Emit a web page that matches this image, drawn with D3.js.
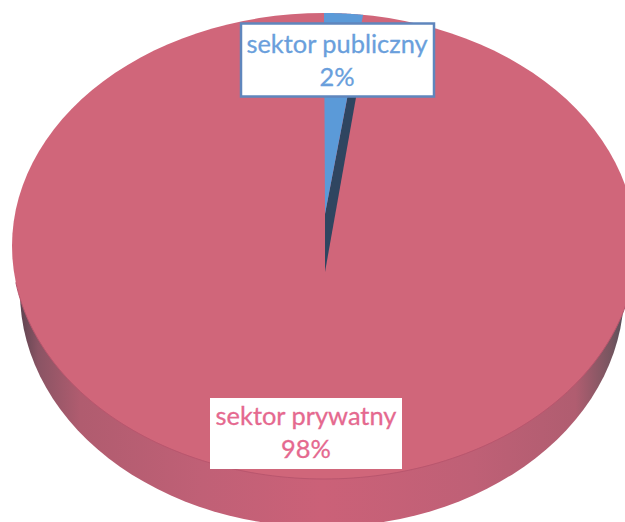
<!DOCTYPE html>
<html lang="pl">
<head>
<meta charset="UTF-8">
<title>Sektor publiczny i prywatny</title>
<script src="https://d3js.org/d3.v7.min.js"></script>
<style>
    html, body { margin: 0; padding: 0; background: #fff; overflow: hidden; }
    svg { display: block; }
    .label { font-family: Lato, "Open Sans", sans-serif; font-size: 25.4px; text-anchor: middle; stroke-width: 0.3px; }
</style>
</head>
<body>
<svg width="625" height="522"></svg>
<script>
    // share of each sector, clockwise from the top
    const categories = ["sektor publiczny", "sektor prywatny"];
    const values = [2, 98];
    const percentLabels = ["2%", "98%"];

    const svg = d3.select("svg");

    // fake 3D: tilted rim ellipse, apex of the slices sits below its centre
    const top3d = {cx: 324, cy: 246, rx: 312, ry: 233};
    const wall3d = {cx: 322, cy: 292, rx: 302, ry: 235};
    const apexX = 325, apexY = 272, blueApexY = 214;

    const pie = d3.pie().sort(null).value(d => d);
    const arcs = pie(values);

    const rimPoint = (e, a) => [e.cx + e.rx * Math.sin(a), e.cy - e.ry * Math.cos(a)];
    const line = d3.line();

    function rim(e, a0, a1) {
        return d3.range(0, 121).map(i => rimPoint(e, a0 + (a1 - a0) * i / 120));
    }

    const defs = svg.append("defs");
    const sideGrad = defs.append("linearGradient").attr("id", "side");
    [[0, "#5e4450"], [0.03, "#8a5464"], [0.1, "#b05c6f"], [0.3, "#c06076"], [0.5, "#cb6178"],
     [0.75, "#bf6076"], [0.92, "#b05d70"], [0.98, "#75555f"], [1, "#55505a"]]
        .forEach(s => sideGrad.append("stop").attr("offset", s[0]).attr("stop-color", s[1]));

    // side wall
    svg.append("path")
        .attr("d", line(rim(wall3d, 0, 2 * Math.PI)) + "Z")
        .attr("fill", "url(#side)");

    // top face, private sector
    svg.append("path")
        .attr("d", line(rim(top3d, 0, 2 * Math.PI)) + "Z")
        .attr("fill", "#d0667a");

    // faint seam between top face and wall
    svg.append("path")
        .attr("d", line(rim(top3d, Math.PI * 0.55, Math.PI * 1.45)))
        .attr("fill", "none")
        .attr("stroke", "#b9566e")
        .attr("stroke-width", 1);

    // public sector slice with its dark cut face, the face stops behind the box
    const pub = arcs[0];
    const pubRim = rim(top3d, pub.startAngle, pub.endAngle);
    const blueEnd = d3.interpolate([apexX, blueApexY], pubRim[pubRim.length - 1])(0.75);
    const wallEnd = d3.interpolate([apexX, apexY], rimPoint(top3d, pub.endAngle + 0.024))(0.75);
    svg.append("path")
        .attr("d", line([[apexX, apexY], [apexX, blueApexY], blueEnd, wallEnd]) + "Z")
        .attr("fill", "#2f4560");
    svg.append("path")
        .attr("d", line([[apexX, blueApexY]].concat(pubRim)) + "Z")
        .attr("fill", "#5b9ad8");

    // label boxes
    const boxes = [
        {x: 241, y: 23.5, w: 193, h: 73, stroke: "#5f86bd", sw: 2.5, color: "#6a9fdc", tx: 337, ty: 53},
        {x: 210, y: 398, w: 192, h: 71, stroke: "none", sw: 0, color: "#e5698f", tx: 306, ty: 425}
    ];
    boxes.forEach((b, i) => {
        svg.append("rect")
            .attr("x", b.x).attr("y", b.y).attr("width", b.w).attr("height", b.h)
            .attr("fill", "#fff").attr("stroke", b.stroke).attr("stroke-width", b.sw);
        svg.append("text").attr("class", "label").attr("x", b.tx).attr("y", b.ty)
            .attr("fill", b.color).attr("stroke", b.color).text(categories[i]);
        svg.append("text").attr("class", "label").attr("x", b.tx).attr("y", b.ty + 33)
            .attr("fill", b.color).attr("stroke", b.color).text(percentLabels[i]);
    });
</script>
</body>
</html>
